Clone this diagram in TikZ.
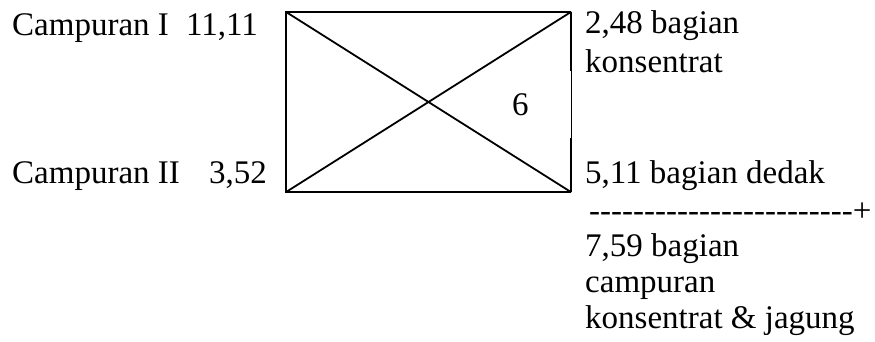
\documentclass[tikz,border=0pt]{standalone}
\usepackage{fontspec}
\setmainfont{Liberation Serif}
\usetikzlibrary{positioning}
\tikzset{
  rowtext/.style={anchor=base west, inner sep=0pt, font=\fontsize{33}{36}\selectfont},
  valtext/.style={rowtext, anchor=base east},
  boxline/.style={line width=1.8pt},
  thinline/.style={line width=0.8pt}
}
\begin{document}
\begin{tikzpicture}[x=1pt,y=-1pt]
\useasboundingbox (0,0) rectangle (875,341);
% the cross box
\node[minimum width=285pt, minimum height=180pt, inner sep=0pt] (box) at (428.5,102) {};
\path (box.north east) ++(0,59) coordinate (gaptop);
\path (box.north east) ++(0,126) coordinate (gapbot);
\draw[boxline] (box.north east) -- (box.north west) -- (box.south west) -- (box.south east);
\draw[boxline] (box.north east) -- (gaptop);
\draw[thinline] (gaptop) -- (gapbot);
\draw[boxline] (gapbot) -- (box.south east);
\draw[boxline] (box.north west) -- (box.south east);
\draw[boxline] (box.south west) -- (box.north east);

% left side
\node[rowtext] (mix1) at (12,35) {Campuran I};
\node[valtext] (val1) at (258,35) {11,11};
\node[rowtext] (mix2) at (12,183) {Campuran II};
\node[valtext] (val2) at (267,183) {3,52};
\node[rowtext] (six) at (512,115) {6};

% right side (base = last line)
\node[rowtext, align=left] (konsentrat) at (585,72) {2,48 bagian\\[3pt]konsentrat};
\node[rowtext] (dedak) at (585,183) {5,11 bagian dedak};
\node[rowtext] (sumline) at (589,221) {\foreach \i in {1,...,24}{\mbox{-}}+};
\node[rowtext, align=left] (total) at (585,328) {7,59 bagian\\campuran\\konsentrat \& jagung};
\end{tikzpicture}
\end{document}
